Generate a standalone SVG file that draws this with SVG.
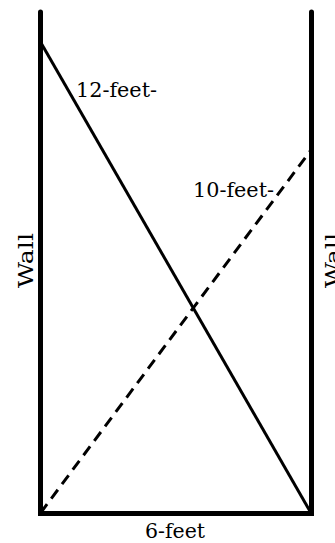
<svg xmlns="http://www.w3.org/2000/svg" width="335" height="543" viewBox="0 0 335 543">
<style>
.wall{stroke:#000;stroke-width:5;stroke-linecap:round;fill:none}
.ladder{stroke:#000;stroke-width:3;fill:none}
.dash{stroke-dasharray:11 7}
.lbl{font-family:"DejaVu Serif","Liberation Serif",serif;font-size:20px;fill:#000}
</style>
<rect width="335" height="543" fill="#fff"/>
<g id="connectors">
<line class="ladder" x1="40.5" y1="42" x2="311" y2="513"/>
<line class="ladder dash" x1="40.5" y1="513" x2="311" y2="150"/>
</g>
<g id="walls">
<path class="wall" d="M40.5 12 V513.5 H311.5 V12"/>
</g>
<g id="labels">
<text class="lbl" x="76" y="97" textLength="81" lengthAdjust="spacingAndGlyphs">12-feet-</text>
<text class="lbl" x="193" y="197" textLength="81" lengthAdjust="spacingAndGlyphs">10-feet-</text>
<text class="lbl" x="145" y="538" textLength="60" lengthAdjust="spacingAndGlyphs">6-feet</text>
<text class="lbl" transform="translate(33 288) rotate(-90)" textLength="55" lengthAdjust="spacingAndGlyphs">Wall</text>
<text class="lbl" transform="translate(340 288) rotate(-90)" textLength="55" lengthAdjust="spacingAndGlyphs">Wall</text>
</g>
</svg>
